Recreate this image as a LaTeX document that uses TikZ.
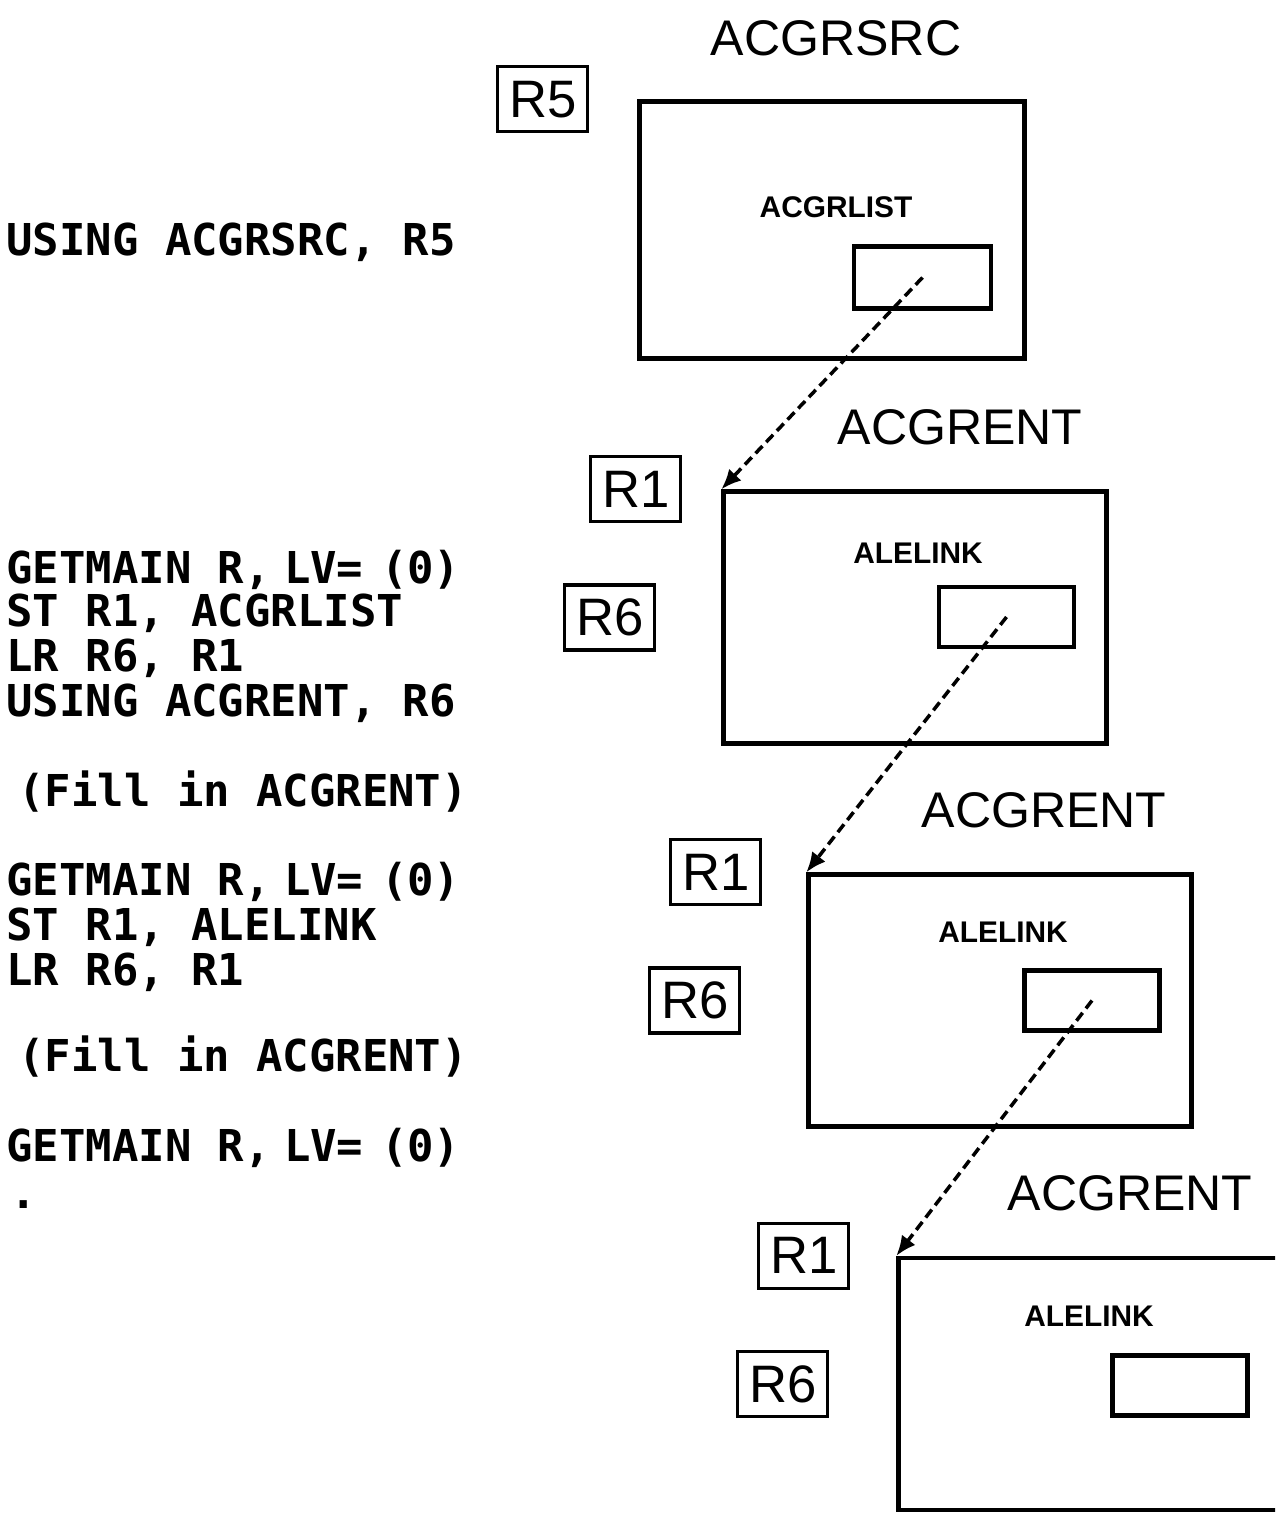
\documentclass[tikz,border=0pt]{standalone}
\usepackage{fontspec}
\setmainfont{Liberation Sans}
\newfontfamily\listfont{DejaVu Sans Mono}
\usepackage{tikz}
\usetikzlibrary{arrows.meta,positioning}

\begin{document}
\begin{tikzpicture}[x=0.02cm,y=-0.02cm]
  \tikzstyle{area}=[rectangle,draw=black,line width=2.5pt,inner sep=0pt]
  \tikzstyle{field}=[rectangle,draw=black,line width=2.5pt,inner sep=0pt,minimum width=2.7cm,minimum height=1.2cm]
  \tikzstyle{reg}=[rectangle,draw=black,line width=1.8pt,inner sep=0pt,minimum width=1.8cm,minimum height=1.3cm,font=\fontsize{30}{30}\selectfont]
  \tikzstyle{title}=[inner sep=0pt,font=\fontsize{28.5}{28.5}\selectfont]
  \tikzstyle{fname}=[inner sep=0pt,font=\fontsize{17}{17}\selectfont\bfseries]
  \tikzstyle{code}=[inner sep=0pt,anchor=base west,font=\fontsize{25}{25}\selectfont\listfont\bfseries]
  \tikzstyle{link}=[-{Latex[length=0.4cm,width=0.34cm]},line width=2pt,dash pattern=on 0.2cm off 0.11cm]

  \clip (0,0) rectangle (1275,1514);

  % Code listing
  \node [code] (usesrc) at (6,255) {USING ACGRSRC, R5};
  \node [code] (get1) at (6,583) {GETMAIN R,\hspace{-0.3em} LV=\hspace{-0.2em} (0)};
  \node [code] (st1) at (6,626) {ST R1, ACGRLIST};
  \node [code] (lr1) at (6,671) {LR R6, R1};
  \node [code] (useent) at (6,716) {USING ACGRENT, R6};
  \node [code] (fill1) at (18,806) {(Fill in ACGRENT)};
  \node [code] (get2) at (6,895) {GETMAIN R,\hspace{-0.3em} LV=\hspace{-0.2em} (0)};
  \node [code] (st2) at (6,940) {ST R1, ALELINK};
  \node [code] (lr2) at (6,985) {LR R6, R1};
  \node [code] (fill2) at (18,1071) {(Fill in ACGRENT)};
  \node [code] (get3) at (6,1161) {GETMAIN R,\hspace{-0.3em} LV=\hspace{-0.2em} (0)};
  \node [code] (more) at (10,1208) {.};

  % Storage areas
  \node [area, minimum width=7.7cm, minimum height=5.14cm] (src) at (832,230) {};
  \node [area, minimum width=7.66cm, minimum height=5.04cm] (ent1) at (915,617.5) {};
  \node [area, minimum width=7.66cm, minimum height=5.04cm] (ent2) at (1000,1000.5) {};
  \node [area, minimum width=7.66cm, minimum height=5.04cm] (ent3) at (1090,1384) {};

  % Area names
  \node [title] (srcname) at (836,38) {ACGRSRC};
  \node [title] (ent1name) at (960,427) {ACGRENT};
  \node [title] (ent2name) at (1044,810) {ACGRENT};
  \node [title] (ent3name) at (1130,1193) {ACGRENT};

  % Pointer fields
  \node [fname] (listname) at (836,207) {ACGRLIST};
  \node [field, minimum width=2.74cm, minimum height=1.24cm] (list) at (922.5,277.5) {};
  \node [fname] (link1name) at (918,553) {ALELINK};
  \node [field] (link1) at (1006.5,617) {};
  \node [fname] (link2name) at (1003,932) {ALELINK};
  \node [field] (link2) at (1092,1000.5) {};
  \node [fname] (link3name) at (1089,1316) {ALELINK};
  \node [field] (link3) at (1180,1385.5) {};

  % Registers
  \node [reg, left=0.96cm of src.north west] (r5) {R5};
  \node [reg, left=0.78cm of ent1.north west] (r1a) {R1};
  \node [reg, left=1.3cm of ent1.west] (r6a) {R6};
  \node [reg, left=0.88cm of ent2.north west] (r1b) {R1};
  \node [reg, left=1.3cm of ent2.west] (r6b) {R6};
  \node [reg, left=0.92cm of ent3.north west] (r1c) {R1};
  \node [reg, left=1.34cm of ent3.west] (r6c) {R6};

  % Chain pointers
  \draw [link] (list.center) -- (ent1.north west);
  \draw [link] (link1.center) -- (ent2.north west);
  \draw [link] (link2.center) -- (ent3.north west);
\end{tikzpicture}
\end{document}
